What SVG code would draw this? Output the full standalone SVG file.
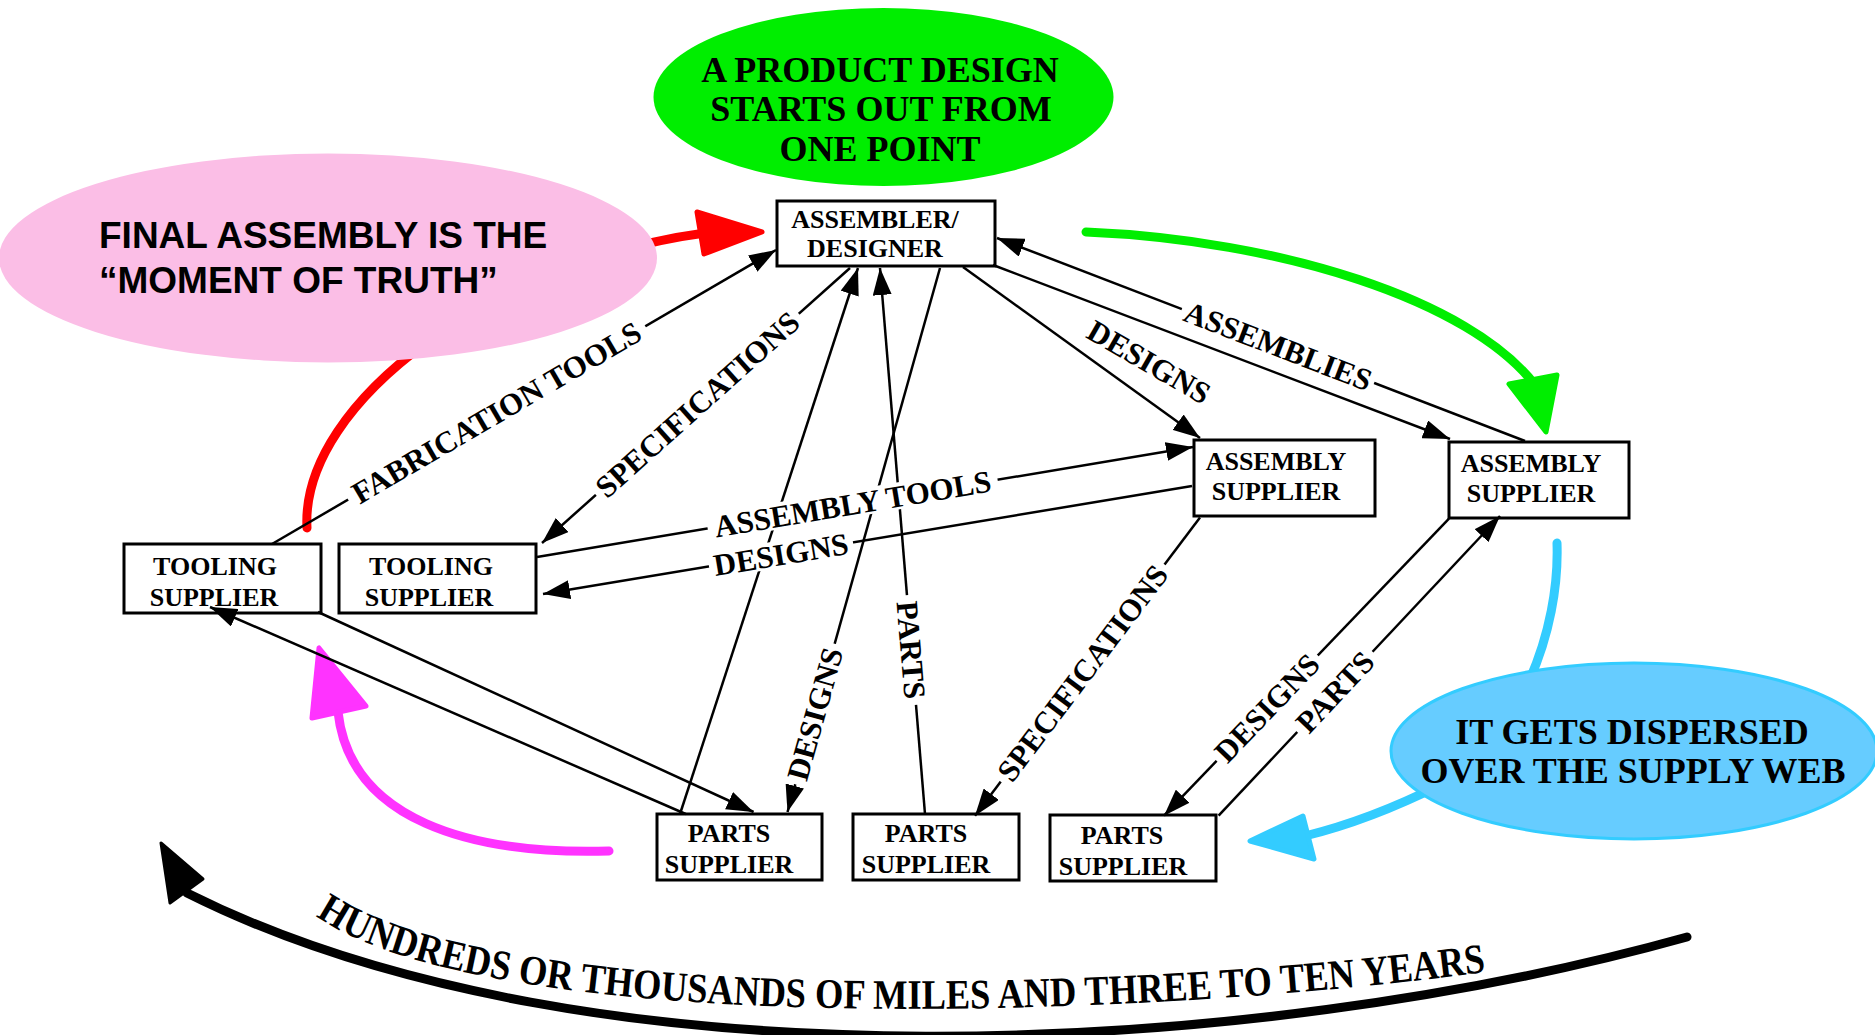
<svg xmlns="http://www.w3.org/2000/svg" xmlns:xlink="http://www.w3.org/1999/xlink" width="1875" height="1035" viewBox="0 0 1875 1035">
<style>
.box{fill:#fff;stroke:#000;stroke-width:3}
.nt{font-family:"Liberation Serif","Times New Roman",serif;font-weight:bold;font-size:26px;text-anchor:middle;fill:#000}
.edge{fill:none;stroke:#000;stroke-width:2.5;marker-end:url(#ah)}
.lbl{font-family:"Liberation Serif","Times New Roman",serif;font-weight:bold;font-size:31px;text-anchor:middle;fill:#000}
.lblbg{fill:#fff}
.big{font-family:"Liberation Serif","Times New Roman",serif;font-weight:bold;font-size:36px;text-anchor:middle;fill:#000}
.sans{font-family:"Liberation Sans",Arial,sans-serif;font-weight:bold;font-size:37px;fill:#000}
.arc{font-family:"Liberation Serif","Times New Roman",serif;font-weight:bold;font-size:42px;fill:#000}
.fat{fill:none;stroke-width:9;stroke-linecap:round}
</style>
<defs>
<marker id="ah" viewBox="0 0 27 19" refX="27" refY="9.5" markerWidth="27" markerHeight="19" markerUnits="userSpaceOnUse" orient="auto"><path d="M0,0 L27,9.5 L0,19 z" fill="#000"/></marker>
<path id="bottomTextPath" d="M316,916 C496,1041 1153,1019 1500,970" fill="none"/>
</defs>
<rect x="0" y="0" width="1875" height="1035" fill="#fff"/>

<g id="annotation-arrows">
  <path class="fat" d="M307,528 C300,400 500,260 705,233" stroke="#FF0000"/>
  <polygon points="762,232 697,212 704,254" fill="#FF0000" stroke="#FF0000" stroke-width="5" stroke-linejoin="round"/>
  <path class="fat" d="M1086,232 C1280,240 1470,300 1535,385" stroke="#00EE00"/>
  <polygon points="1546,432 1509,384 1557,375" fill="#00EE00" stroke="#00EE00" stroke-width="5" stroke-linejoin="round"/>
  <path class="fat" d="M1557,543 C1560,630 1520,740 1440,785 Q1370,820 1305,836" stroke="#33CCFF"/>
  <polygon points="1250,841 1303,816 1314,859" fill="#33CCFF" stroke="#33CCFF" stroke-width="5" stroke-linejoin="round"/>
  <path class="fat" d="M609,851 C470,855 350,820 338,712" stroke="#FF33FF"/>
  <polygon points="319,648 312,718 366,706" fill="#FF33FF" stroke="#FF33FF" stroke-width="5" stroke-linejoin="round"/>
  <path class="fat" d="M1687,937 C1254,1058 590,1095 187,893" stroke="#000"/>
  <polygon points="161,843 170,903 203,879" fill="#000" stroke="#000" stroke-width="3" stroke-linejoin="round"/>
  <text class="arc"><textPath xlink:href="#bottomTextPath" href="#bottomTextPath" textLength="1185" lengthAdjust="spacingAndGlyphs">HUNDREDS OR THOUSANDS OF MILES AND THREE TO TEN YEARS</textPath></text>
</g>

<g id="callout-green">
  <ellipse cx="883.5" cy="97" rx="230" ry="89" fill="#00EE00"/>
  <text class="big" x="880" y="82">A PRODUCT DESIGN</text>
  <text class="big" x="881" y="121">STARTS OUT FROM</text>
  <text class="big" x="880" y="161">ONE POINT</text>
</g>
<g id="callout-pink">
  <ellipse cx="328" cy="258" rx="329" ry="104.5" fill="#FBBEE6"/>
  <text class="sans" x="99" y="248">FINAL ASSEMBLY IS THE</text>
  <text class="sans" x="99" y="293">“MOMENT OF TRUTH”</text>
</g>
<g id="callout-blue">
  <ellipse cx="1634" cy="751" rx="243" ry="88" fill="#66CCFF" stroke="#33CCFF" stroke-width="3"/>
  <text class="big" x="1632" y="744">IT GETS DISPERSED</text>
  <text class="big" x="1633" y="783">OVER THE SUPPLY WEB</text>
</g>

<g id="node-assembler-designer">
  <rect class="box" x="777" y="201" width="218" height="65"/>
  <text class="nt" x="875" y="228">ASSEMBLER/</text>
  <text class="nt" x="875" y="257">DESIGNER</text>
</g>
<g id="node-assembly-supplier-1">
  <rect class="box" x="1194" y="440" width="181" height="76"/>
  <text class="nt" x="1276" y="470">ASSEMBLY</text>
  <text class="nt" x="1276" y="500">SUPPLIER</text>
</g>
<g id="node-assembly-supplier-2">
  <rect class="box" x="1449" y="442" width="180" height="76"/>
  <text class="nt" x="1531" y="472">ASSEMBLY</text>
  <text class="nt" x="1531" y="502">SUPPLIER</text>
</g>
<g id="node-tooling-supplier-1">
  <rect class="box" x="124" y="544" width="197" height="69"/>
  <text class="nt" x="215" y="575">TOOLING</text>
  <text class="nt" x="214" y="606">SUPPLIER</text>
</g>
<g id="node-tooling-supplier-2">
  <rect class="box" x="339" y="544" width="197" height="69"/>
  <text class="nt" x="431" y="575">TOOLING</text>
  <text class="nt" x="429" y="606">SUPPLIER</text>
</g>
<g id="node-parts-supplier-1">
  <rect class="box" x="657" y="814" width="165" height="66"/>
  <text class="nt" x="729" y="842">PARTS</text>
  <text class="nt" x="729" y="873">SUPPLIER</text>
</g>
<g id="node-parts-supplier-2">
  <rect class="box" x="853" y="814" width="166" height="66"/>
  <text class="nt" x="926" y="842">PARTS</text>
  <text class="nt" x="926" y="873">SUPPLIER</text>
</g>
<g id="node-parts-supplier-3">
  <rect class="box" x="1050" y="815" width="166" height="66"/>
  <text class="nt" x="1122" y="844">PARTS</text>
  <text class="nt" x="1123" y="875">SUPPLIER</text>
</g>

<g id="connectors">
  <path class="edge" d="M272,544 L776,250"/>
  <path class="edge" d="M850,268 L542,543"/>
  <path class="edge" d="M680,814 L858,268"/>
  <path class="edge" d="M940,268 L787.5,812"/>
  <path class="edge" d="M925,814 L880,268"/>
  <path class="edge" d="M963,267 L1200,438"/>
  <path class="edge" d="M1525,441 L997,238"/>
  <path class="edge" d="M993,265 L1450,439"/>
  <path class="edge" d="M537,557 L1193,447"/>
  <path class="edge" d="M1192,486 L543,594"/>
  <path class="edge" d="M1200,517.5 L975,815.7"/>
  <path class="edge" d="M1449,518.6 L1164,815.7"/>
  <path class="edge" d="M1218.6,815.7 L1500,516"/>
  <path class="edge" d="M318,612 L753.6,812"/>
  <path class="edge" d="M685.7,814 L210,607"/>
  <g id="edge-labels">
    <g transform="translate(496.5,412.6) rotate(-30.3)"><rect class="lblbg" x="-172" y="-14" width="344" height="27"/><text class="lbl" y="10.5">FABRICATION TOOLS</text></g>
    <g transform="translate(697.5,404.5) rotate(-41.8)"><rect class="lblbg" x="-136" y="-14" width="272" height="27"/><text class="lbl" y="10.5">SPECIFICATIONS</text></g>
    <g transform="translate(815,714) rotate(-74.3)"><rect class="lblbg" x="-73" y="-14" width="146" height="27"/><text class="lbl" y="10.5">DESIGNS</text></g>
    <g transform="translate(911,650) rotate(85.3)"><rect class="lblbg" x="-55" y="-14" width="110" height="27"/><text class="lbl" y="10.5">PARTS</text></g>
    <g transform="translate(1149,362) rotate(30)"><text class="lbl" y="10.5">DESIGNS</text></g>
    <g transform="translate(1278,346) rotate(21)"><rect class="lblbg" x="-103" y="-14" width="206" height="27"/><text class="lbl" y="10.5">ASSEMBLIES</text></g>
    <g transform="translate(852.6,504) rotate(-9.5)"><rect class="lblbg" x="-147" y="-14" width="294" height="27"/><text class="lbl" y="10.5">ASSEMBLY TOOLS</text></g>
    <g transform="translate(781,554.5) rotate(-9.5)"><rect class="lblbg" x="-73" y="-14" width="146" height="27"/><text class="lbl" y="10.5">DESIGNS</text></g>
    <g transform="translate(1082.6,673) rotate(-53)"><rect class="lblbg" x="-136" y="-14" width="272" height="27"/><text class="lbl" y="10.5">SPECIFICATIONS</text></g>
    <g transform="translate(1267,708) rotate(-46.2)"><rect class="lblbg" x="-73" y="-14" width="146" height="27"/><text class="lbl" y="10.5">DESIGNS</text></g>
    <g transform="translate(1335,692) rotate(-46.8)"><rect class="lblbg" x="-55" y="-14" width="110" height="27"/><text class="lbl" y="10.5">PARTS</text></g>
  </g>
</g>
</svg>
